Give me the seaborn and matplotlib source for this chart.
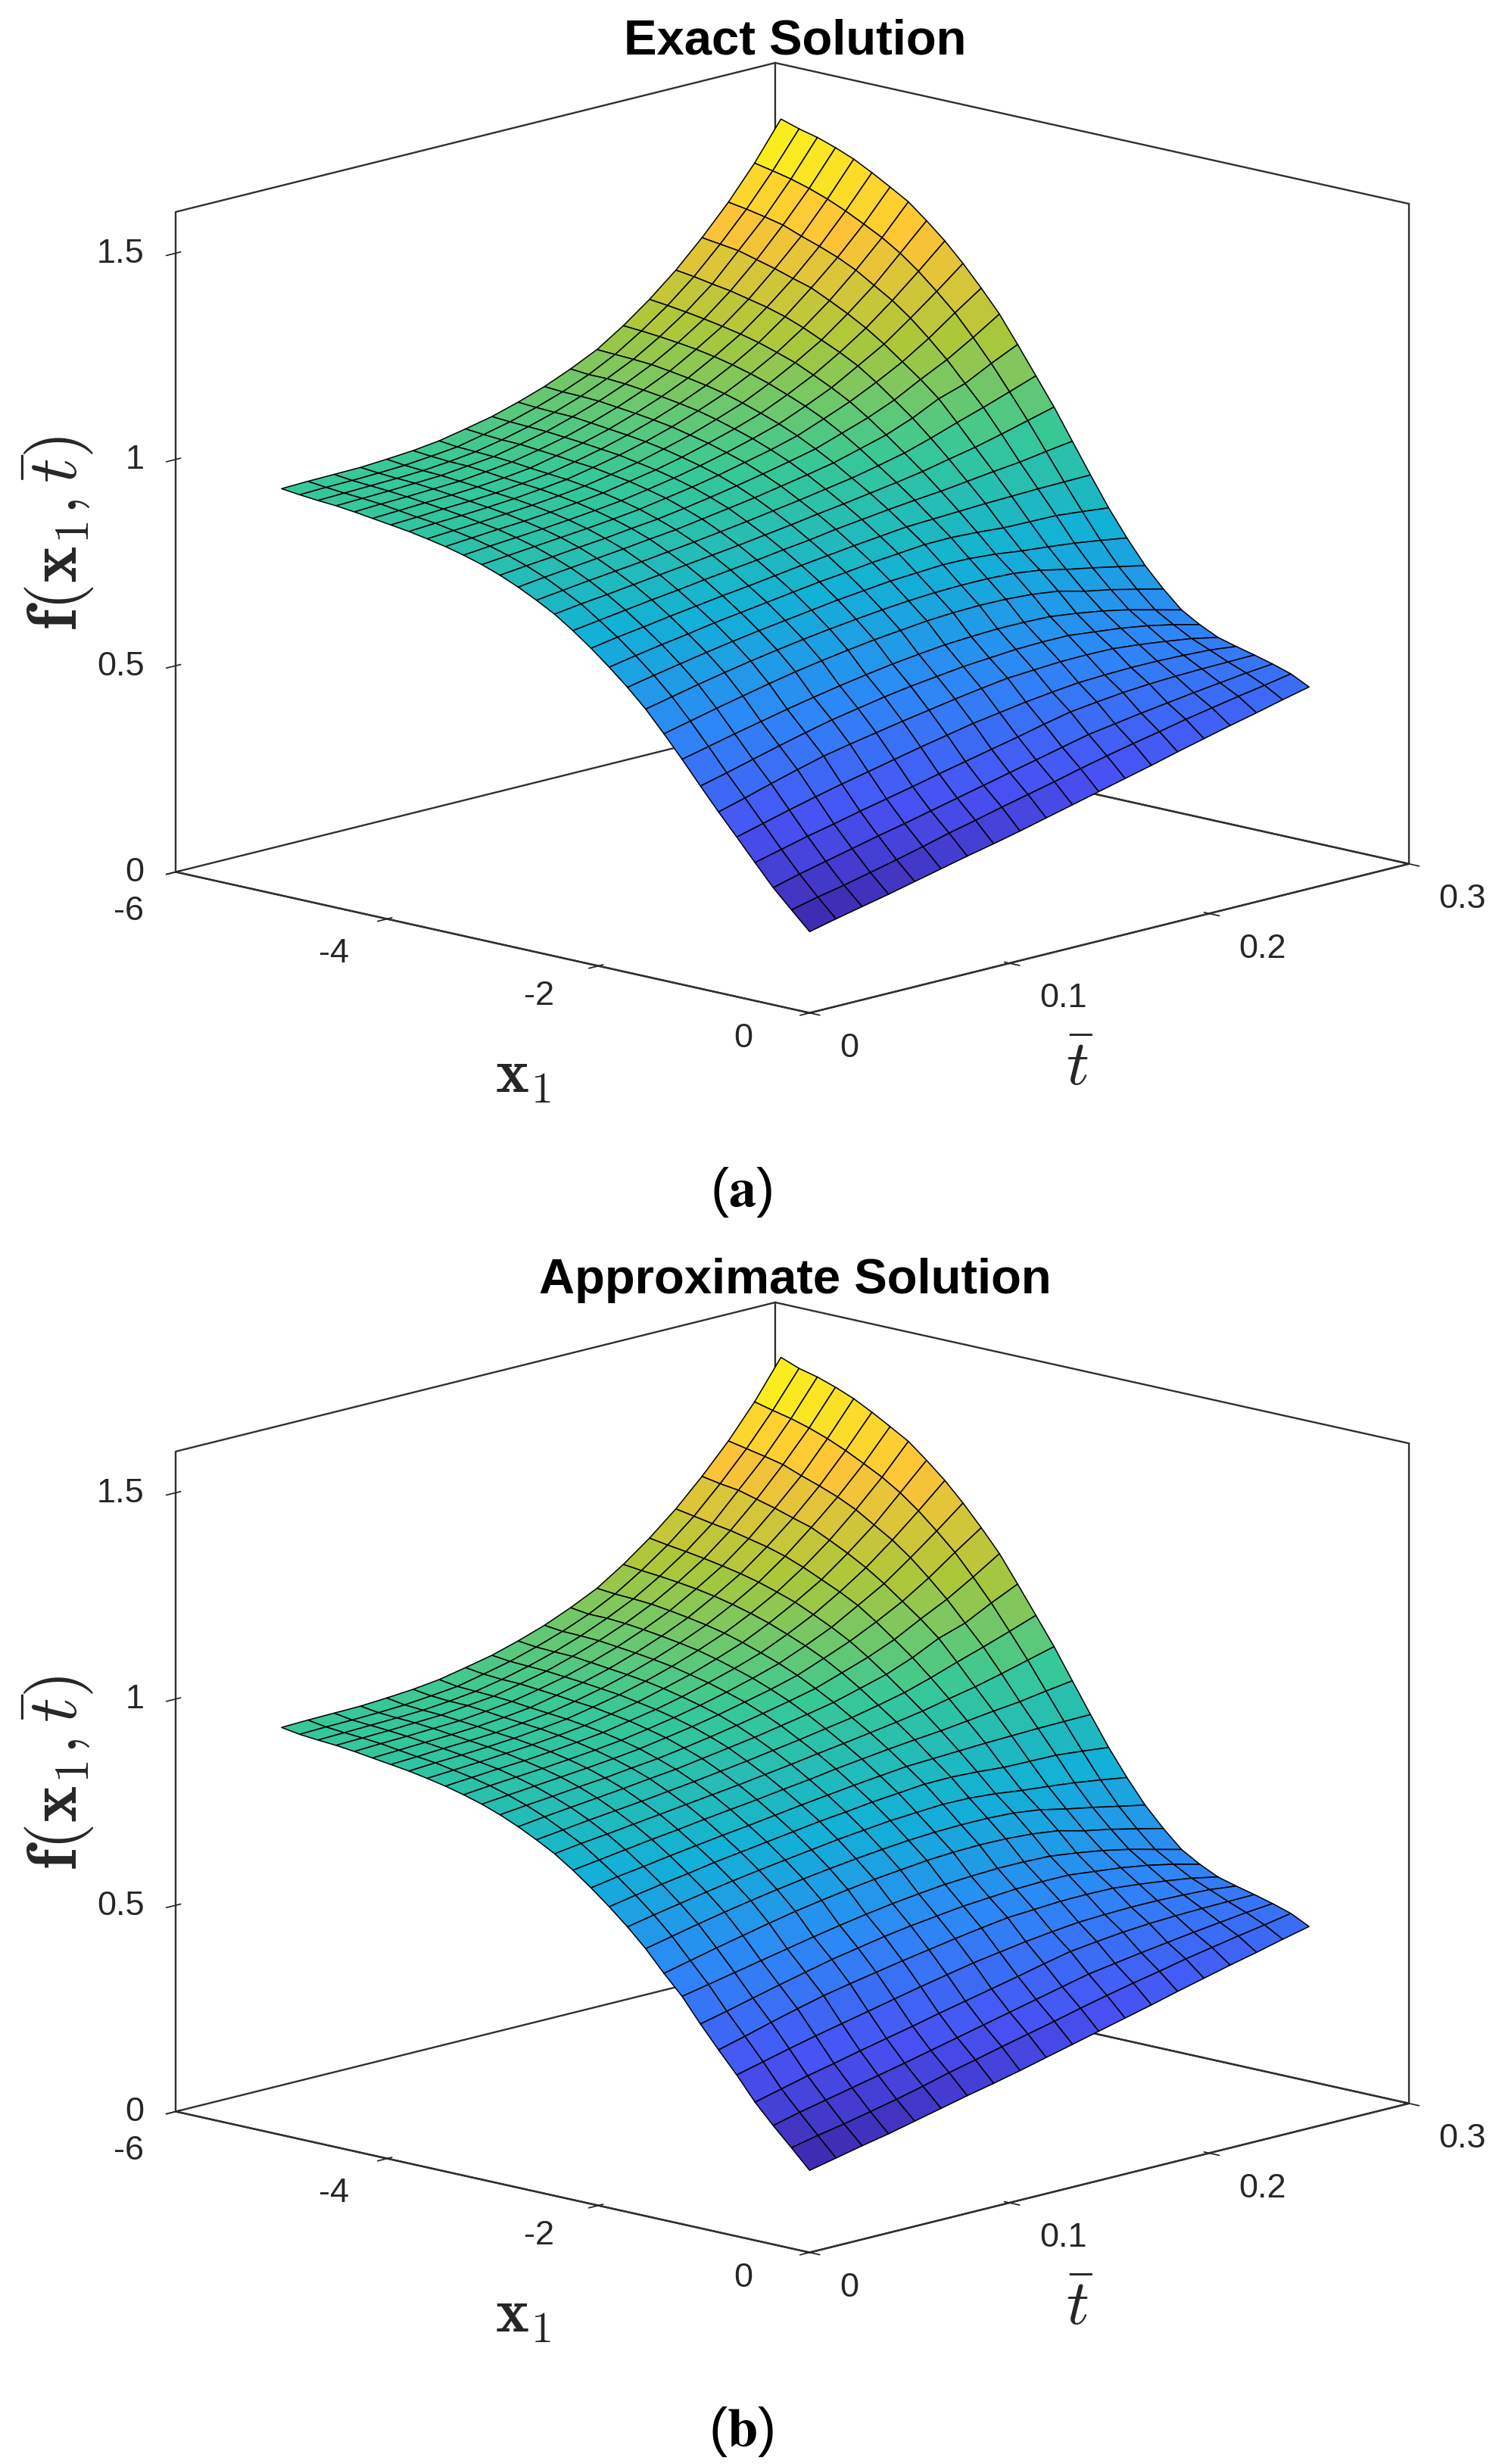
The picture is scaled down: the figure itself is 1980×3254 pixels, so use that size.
import numpy as np
import matplotlib
matplotlib.use("Agg")
import matplotlib.pyplot as plt
from matplotlib.colors import LinearSegmentedColormap
from mpl_toolkits.mplot3d import proj3d
import seaborn as sns

# mesh positions
x1_vals = [-5, -4.828, -4.655, -4.483, -4.310, -4.138, -3.966, -3.793, -3.621, -3.448, -3.276, -3.103, -2.931, -2.759, -2.586,
           -2.414, -2.241, -2.069, -1.897, -1.724, -1.552, -1.379, -1.207, -1.034, -0.862, -0.690, -0.517, -0.345, -0.172, 0]
t_vals = [0, 0.0132, 0.0263, 0.0395, 0.0526, 0.0658, 0.0789, 0.0921, 0.1053, 0.1184,
          0.1316, 0.1447, 0.1579, 0.1711, 0.1842, 0.1974, 0.2105, 0.2237, 0.2368, 0.25]

# surface heights, one list per x1 line, t from 0 to 0.25
exact_x00 = [.986,.988,.989,.990,.994,.999,1.007,1.020,1.034,1.053,1.075,1.102,1.133,1.175,1.223,1.278,1.341,1.411,1.490,1.581]
exact_x01 = [.981,.983,.984,.986,.989,.995,1.002,1.016,1.031,1.050,1.072,1.098,1.131,1.172,1.218,1.272,1.335,1.404,1.481,1.567]
exact_x02 = [.977,.979,.981,.983,.986,.992,1.000,1.013,1.029,1.048,1.071,1.098,1.129,1.168,1.212,1.264,1.329,1.395,1.471,1.556]
exact_x03 = [.974,.976,.978,.981,.984,.991,.998,1.012,1.027,1.047,1.069,1.095,1.126,1.163,1.205,1.257,1.317,1.385,1.458,1.541]
exact_x04 = [.969,.972,.974,.977,.980,.987,.995,1.008,1.023,1.042,1.064,1.090,1.120,1.157,1.197,1.247,1.305,1.368,1.442,1.523]
exact_x05 = [.963,.966,.969,.972,.976,.982,.990,1.004,1.019,1.037,1.059,1.084,1.113,1.149,1.188,1.237,1.291,1.353,1.423,1.500]
exact_x06 = [.957,.960,.964,.967,.971,.978,.986,.999,1.014,1.032,1.053,1.077,1.105,1.139,1.177,1.224,1.278,1.336,1.401,1.475]
exact_x07 = [.951,.955,.958,.962,.967,.974,.982,.995,1.009,1.026,1.046,1.069,1.095,1.127,1.163,1.207,1.257,1.315,1.378,1.449]
exact_x08 = [.943,.947,.951,.956,.961,.968,.976,.988,1.001,1.018,1.036,1.058,1.082,1.113,1.148,1.187,1.235,1.288,1.350,1.413]
exact_x09 = [.934,.939,.944,.948,.954,.961,.969,.981,.993,1.008,1.026,1.045,1.067,1.096,1.128,1.167,1.210,1.261,1.316,1.374]
exact_x10 = [.923,.929,.934,.939,.945,.952,.960,.971,.983,.997,1.013,1.031,1.051,1.078,1.107,1.144,1.181,1.228,1.277,1.329]
exact_x11 = [.910,.916,.922,.928,.934,.941,.949,.960,.971,.984,.999,1.014,1.032,1.057,1.083,1.114,1.148,1.189,1.235,1.279]
exact_x12 = [.894,.901,.907,.914,.920,.928,.935,.945,.956,.968,.981,.995,1.010,1.032,1.054,1.081,1.115,1.147,1.185,1.226]
exact_x13 = [.875,.883,.890,.897,.904,.912,.919,.929,.939,.949,.961,.973,.986,1.004,1.022,1.047,1.078,1.099,1.132,1.162]
exact_x14 = [.853,.861,.869,.876,.883,.891,.899,.908,.917,.927,.937,.948,.959,.973,.988,1.008,1.030,1.051,1.073,1.096]
exact_x15 = [.829,.838,.845,.853,.861,.869,.877,.885,.894,.903,.913,.922,.932,.942,.953,.967,.980,.996,1.013,1.030]
exact_x16 = [.799,.808,.817,.826,.834,.843,.851,.859,.868,.876,.886,.894,.902,.909,.915,.923,.931,.938,.948,.957]
exact_x17 = [.766,.777,.786,.796,.805,.814,.822,.831,.840,.848,.856,.863,.870,.873,.876,.879,.881,.883,.884,.885]
exact_x18 = [.730,.742,.753,.763,.774,.783,.792,.801,.810,.817,.825,.831,.837,.838,.835,.830,.829,.828,.822,.815]
exact_x19 = [.691,.704,.716,.728,.739,.749,.758,.767,.776,.783,.790,.794,.798,.797,.792,.784,.778,.771,.762,.752]
exact_x20 = [.648,.662,.676,.689,.701,.712,.722,.731,.739,.746,.752,.756,.758,.758,.755,.747,.733,.721,.708,.695]
exact_x21 = [.598,.613,.628,.642,.656,.669,.680,.690,.699,.706,.713,.717,.719,.718,.714,.706,.690,.678,.663,.648]
exact_x22 = [.546,.561,.576,.590,.604,.617,.629,.640,.650,.658,.665,.669,.672,.672,.670,.662,.652,.639,.623,.607]
exact_x23 = [.491,.507,.524,.541,.557,.572,.584,.596,.606,.614,.622,.627,.632,.634,.634,.627,.620,.610,.597,.581]
exact_x24 = [.438,.456,.475,.493,.510,.523,.535,.547,.558,.569,.579,.588,.592,.596,.597,.596,.590,.582,.573,.560]
exact_x25 = [.387,.404,.421,.437,.452,.466,.480,.494,.507,.520,.530,.540,.548,.555,.558,.560,.560,.558,.555,.548]
exact_x26 = [.335,.351,.367,.381,.396,.410,.424,.439,.453,.467,.481,.496,.510,.518,.525,.530,.533,.535,.536,.537]
exact_x27 = [.284,.301,.316,.331,.346,.360,.375,.390,.405,.420,.435,.450,.465,.475,.485,.494,.503,.511,.519,.525]
exact_x28 = [.240,.255,.268,.283,.298,.314,.331,.346,.362,.377,.392,.408,.423,.437,.450,.464,.476,.488,.499,.511]
exact_x29 = [.197,.212,.226,.240,.255,.270,.285,.299,.314,.330,.346,.362,.378,.394,.411,.427,.443,.458,.474,.489]

# the approximate surface is the same as the exact one to within reading error, except along these lines
approx_x00 = [.988,.990,.991,.992,.996,1.001,1.009,1.022,1.036,1.055,1.077,1.104,1.135,1.177,1.225,1.280,1.343,1.413,1.492,1.584]
approx_x22 = [.552,.565,.578,.591,.604,.617,.629,.640,.650,.658,.665,.669,.672,.672,.670,.662,.652,.639,.623,.607]
approx_x23 = [.495,.510,.526,.542,.557,.572,.584,.596,.606,.614,.622,.627,.632,.634,.634,.627,.620,.610,.597,.581]
approx_x24 = [.442,.459,.477,.494,.510,.523,.535,.547,.558,.569,.579,.588,.592,.596,.597,.596,.590,.582,.573,.560]
approx_x25 = [.391,.407,.423,.438,.452,.466,.480,.494,.507,.520,.530,.540,.548,.555,.558,.560,.560,.558,.555,.548]
approx_x27 = [.288,.304,.318,.332,.346,.360,.375,.390,.405,.420,.435,.450,.465,.475,.485,.494,.503,.511,.519,.525]
approx_x28 = [.244,.258,.270,.284,.298,.314,.331,.346,.362,.377,.392,.408,.423,.437,.450,.464,.476,.488,.499,.511]
approx_x29 = [.199,.213,.227,.240,.255,.270,.285,.299,.314,.330,.346,.362,.378,.394,.411,.427,.443,.458,.474,.489]

x_ticks = [-6, -4, -2, 0]
t_ticks = [0, 0.1, 0.2, 0.3]
z_ticks = [0, 0.5, 1, 1.5]
x_ticklabels = ["-6", "-4", "-2", "0"]
t_ticklabels = ["0", "0.1", "0.2", "0.3"]
z_ticklabels = ["0", "0.5", "1", "1.5"]

parula = LinearSegmentedColormap.from_list(
    "parula", ["#3e26a8", "#4852f4", "#2d87f7", "#12b1d6", "#37c897", "#abc739", "#fec338", "#f9fb14"])

sns.set_theme(style="white")
plt.rcParams["font.family"] = ["Liberation Sans", "DejaVu Sans"]
INK = "#262626"
W, H = 1980, 3255


def tick_text(ax, x, t, z, label, ha):
    # project the 3d anchor so the text gets a normal 2d position
    xp, yp, _ = proj3d.proj_transform(x, t, z, ax.get_proj())
    ax.text2D(xp, yp, label, transform=ax.transData, ha=ha, va="center", fontsize=32.5, color=INK)


def draw_panel(rows, bottom_px, shift_y, title, caption):
    ax = fig.add_axes([71 / W, bottom_px / H, 1900 / W, 1900 / H], projection="3d", proj_type="ortho")
    ax.patch.set_visible(False)
    ax.view_init(elev=13.6, azim=-46.6)
    ax.set_box_aspect((555, 555, 432), zoom=0.9503)

    T, X = np.meshgrid(t_vals, x1_vals)
    Z = np.array(rows)
    ax.plot_surface(X, T, Z, cmap=parula, vmin=Z.min(), vmax=Z.max(), rstride=1, cstride=1,
                    edgecolor="black", linewidth=1.1, shade=False, antialiased=True)

    ax.set_xlim(-6, 0, view_margin=0)
    ax.set_ylim(0, 0.3, view_margin=0)
    ax.set_zlim(0, 1.6, view_margin=0)
    ax.set_xticks(x_ticks)
    ax.set_yticks(t_ticks)
    ax.set_zticks(z_ticks)
    ax.grid(False)
    for axis in (ax.xaxis, ax.yaxis, ax.zaxis):
        axis.pane.set_alpha(None)
        axis.pane.set_facecolor((1, 1, 1, 0))
        axis.pane.set_edgecolor("#303030")
        axis.pane.set_linewidth(1.7)
        axis.line.set_color("#303030")
        axis.line.set_linewidth(1.7)
        for tick in axis.get_major_ticks():
            tick.label1.set_visible(False)
    ax.zaxis.set_ticks_position("lower")
    ax.tick_params(axis="both", colors=INK, width=1.5)

    # matlab puts the tick labels off to the side, so they sit a little away from the floor edges
    for tick, label in zip(x_ticks, x_ticklabels):
        tick_text(ax, tick * 0.9385 + 0.173, -0.0422 + 0.00167 * tick, 0, label, "center")
    for tick, label in zip(t_ticks, t_ticklabels):
        tick_text(ax, 0.843, tick - 0.0296, 0, label, "left")
    for tick, label in zip(z_ticks, z_ticklabels):
        tick_text(ax, -6.157, -0.00744, tick, label, "right")

    label_args = dict(ha="center", va="center", math_fontfamily="cm", color=INK)
    fig.text(691 / W, 1 - (1421 + shift_y) / H, r"$\mathbf{x}_1$", fontsize=60, **label_args)
    fig.text(1426 / W, 1 - (1411 + shift_y) / H, r"$\bar{t}$", fontsize=60, **label_args)
    fig.text(77 / W, 1 - (704 + shift_y) / H, r"$\mathbf{f}(\mathbf{x}_1,\bar{t})$", fontsize=66, rotation=90, **label_args)

    fig.text(1050 / W, 1 - (54 + shift_y) / H, title, ha="center", va="center", fontsize=47, fontweight="bold", color="black")
    fig.text(979 / W, 1 - (1575 + shift_y) / H, caption, ha="center", va="center", fontsize=52, math_fontfamily="stix", color="black")
    return ax


exact_rows = [exact_x00, exact_x01, exact_x02, exact_x03, exact_x04, exact_x05, exact_x06, exact_x07, exact_x08, exact_x09,
              exact_x10, exact_x11, exact_x12, exact_x13, exact_x14, exact_x15, exact_x16, exact_x17, exact_x18, exact_x19,
              exact_x20, exact_x21, exact_x22, exact_x23, exact_x24, exact_x25, exact_x26, exact_x27, exact_x28, exact_x29]
approx_rows = [approx_x00, exact_x01, exact_x02, exact_x03, exact_x04, exact_x05, exact_x06, exact_x07, exact_x08, exact_x09,
               exact_x10, exact_x11, exact_x12, exact_x13, exact_x14, exact_x15, exact_x16, exact_x17, exact_x18, exact_x19,
               exact_x20, exact_x21, approx_x22, approx_x23, approx_x24, approx_x25, exact_x26, approx_x27, approx_x28, approx_x29]

fig = plt.figure(figsize=(W / 100, H / 100), dpi=100)
draw_panel(exact_rows, 1568, 0, "Exact Solution", r"($\mathbf{a}$)")
draw_panel(approx_rows, -69, 1637, "Approximate Solution", r"($\mathbf{b}$)")
fig.savefig("out.png", dpi=100, facecolor="white")
